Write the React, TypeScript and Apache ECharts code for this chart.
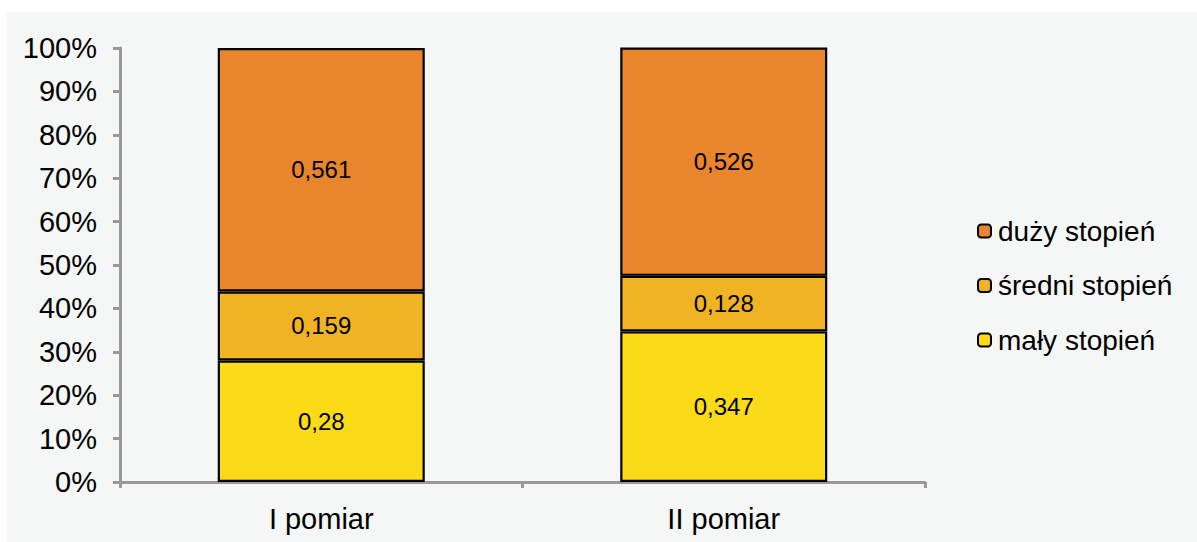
import React, { useEffect, useRef } from "react";
import * as echarts from "echarts";

const categories = ["I pomiar", "II pomiar"];
const malyStopien = [0.28, 0.347];
const sredniStopien = [0.159, 0.128];
const duzyStopien = [0.561, 0.526];
const yTicks = [0, 0.1, 0.2, 0.3, 0.4, 0.5, 0.6, 0.7, 0.8, 0.9, 1];

const FONT = "'Liberation Sans', Arial, sans-serif";
const NARROW = "'Liberation Sans Narrow', 'Arial Narrow', 'Liberation Sans', Arial, sans-serif";

export default function App() {
  const ref = useRef<HTMLDivElement>(null);
  useEffect(() => {
    if (!ref.current) return;
    const chart = echarts.init(ref.current, undefined, { renderer: "svg" });
    const label = {
      show: true,
      position: "inside",
      color: "#000",
      fontFamily: NARROW,
      fontSize: 24,
      formatter: (p: any) => String(p.value).replace(".", ","),
    };
    const mk = (name: string, data: number[], color: string) => ({
      name,
      type: "bar",
      stack: "total",
      data,
      barWidth: 207,
      itemStyle: { color, borderColor: "#000", borderWidth: 2.2 },
      label,
    });
    chart.setOption({
      animation: false,
      backgroundColor: "#f5f6f6",
      textStyle: { fontFamily: FONT },
      grid: { left: 113, right: 272, top: 36, bottom: 60 },
      legend: {
        orient: "vertical",
        left: 970,
        top: 205,
        padding: 0,
        itemWidth: 13,
        itemHeight: 13,
        itemGap: 26.5,
        data: ["duży stopień", "średni stopień", "mały stopień"],
        itemStyle: { borderColor: "#000", borderWidth: 2 },
        textStyle: { fontFamily: FONT, fontSize: 28, color: "#000", lineHeight: 28, padding: [0, 0, 0, 2] },
      },
      xAxis: {
        type: "category",
        data: categories,
        axisLine: { lineStyle: { color: "#999", width: 3 } },
        axisTick: { show: true, length: 6, lineStyle: { color: "#999", width: 3 } },
        axisLabel: { color: "#000", fontSize: 29, fontFamily: FONT, margin: 22 },
      },
      yAxis: {
        type: "value",
        min: 0,
        max: 1,
        interval: 0.1,
        splitLine: { show: false },
        axisLine: { show: true, lineStyle: { color: "#999", width: 3 } },
        axisTick: { show: true, length: 7, lineStyle: { color: "#999", width: 3 } },
        axisLabel: {
          color: "#000",
          fontSize: 29,
          fontFamily: FONT,
          margin: 23,
          formatter: (v: number) => {
            const t = yTicks.find((x) => Math.abs(x - v) < 1e-9);
            return Math.round((t ?? v) * 100) + "%";
          },
        },
      },
      series: [
        mk("mały stopień", malyStopien, "#fbda17"),
        mk("średni stopień", sredniStopien, "#f0b323"),
        mk("duży stopień", duzyStopien, "#e9862d"),
      ],
    });
    return () => chart.dispose();
  }, []);
  return (
    <div
      ref={ref}
      style={{ position: "absolute", left: 7, top: 12, width: 1190, height: 530 }}
    />
  );
}
